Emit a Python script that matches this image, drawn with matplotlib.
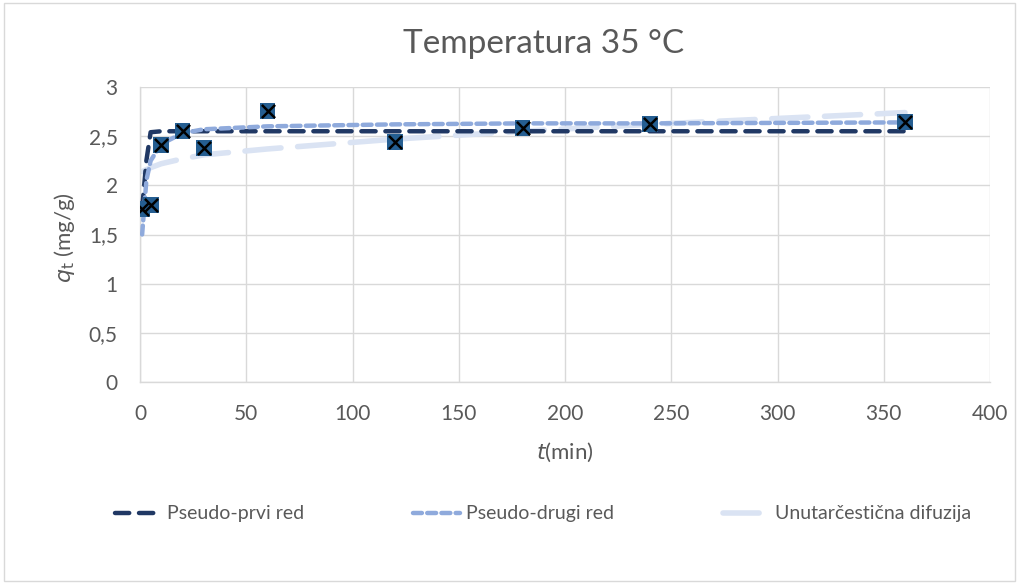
import matplotlib
matplotlib.use("Agg")
import matplotlib.pyplot as plt
from matplotlib.ticker import FuncFormatter

plt.rcParams['font.family'] = ['Lato', 'DejaVu Sans']

# experimental data
t_exp = [1, 5, 10, 20, 30, 60, 120, 180, 240, 360]
q_exp = [1.76, 1.80, 2.41, 2.55, 2.38, 2.76, 2.44, 2.58, 2.62, 2.64]

# model curves
t_fit = [1, 3, 5, 10, 20, 30, 60, 120, 180, 240, 360]
q_pfo = [1.76, 2.25, 2.54, 2.55, 2.55, 2.55, 2.55, 2.55, 2.55, 2.55, 2.55]
q_pso = [1.50, 2.05, 2.25, 2.42, 2.53, 2.57, 2.60, 2.62, 2.63, 2.63, 2.64]
q_ipd = [2.14, 2.16, 2.18, 2.22, 2.27, 2.31, 2.37, 2.47, 2.55, 2.62, 2.74]

labels = ["Pseudo-prvi red", "Pseudo-drugi red", "Unutarčestična difuzija"]
title = "Temperatura 35 °C"
x_ticks = [0, 50, 100, 150, 200, 250, 300, 350, 400]
y_ticks = [0, 0.5, 1, 1.5, 2, 2.5, 3]

fig = plt.figure(figsize=(10.19, 5.83), dpi=100)
ax = fig.add_axes([140/1019, 1-382/583, 850/1019, 295/583])

c_grid = '#D9D9D9'
c_text = '#595959'
ax.plot(t_fit, q_pfo, color='#203864', lw=3.2, dashes=(3.2, 2.2), dash_capstyle='round',
        label=labels[0], zorder=3)
ax.plot(t_fit, q_pso, color='#8FAADC', lw=3.2, dashes=(2.0, 1.2), dash_capstyle='round',
        label=labels[1], zorder=3)
ax.plot(t_fit, q_ipd, color='#DAE3F3', lw=4.0, dashes=(6.5, 3.0), dash_capstyle='round',
        label=labels[2], zorder=2)

ax.scatter(t_exp, q_exp, marker='s', s=130, color='#255E91', edgecolors='none', zorder=4)
ax.scatter(t_exp, q_exp, marker='x', s=90, color='black', linewidths=1.8, zorder=5)

ax.set_xlim(0, 400)
ax.set_ylim(0, 3)
ax.set_xticks(x_ticks)
ax.set_yticks(y_ticks)
ax.yaxis.set_major_formatter(FuncFormatter(lambda v, p: ('%g' % v).replace('.', ',')))
ax.grid(True, color=c_grid, lw=1.0)
ax.set_axisbelow(True)
for s in ['top', 'right']:
    ax.spines[s].set_visible(False)
for s in ['left', 'bottom']:
    ax.spines[s].set_color(c_grid)
    ax.spines[s].set_linewidth(1.0)
ax.tick_params(length=0, labelsize=15, colors=c_text, pad=16)

fig.text(544/1019, 1-44/583, title, fontsize=24, color=c_text, ha='center', va='center')
ax.set_xlabel(r'$t$(min)', fontsize=16, color=c_text)
ax.xaxis.set_label_coords(0.5, (382-441)/295)
ax.set_ylabel(r'$q_\mathrm{t}$ (mg/g)', fontsize=16, color=c_text)
ax.yaxis.set_label_coords((77-140)/850, 0.49)

leg = fig.legend(loc='center', bbox_to_anchor=(543/1019, 1-514/583), ncol=3, frameon=False,
                 fontsize=14, handlelength=2.4, columnspacing=5.6, handletextpad=0.3,
                 labelcolor=c_text)

border = plt.Rectangle((0.004, 0.004), 0.992, 0.99, transform=fig.transFigure,
                       fill=False, edgecolor=c_grid, lw=1)
fig.add_artist(border)

fig.savefig('out.png', dpi=100)
